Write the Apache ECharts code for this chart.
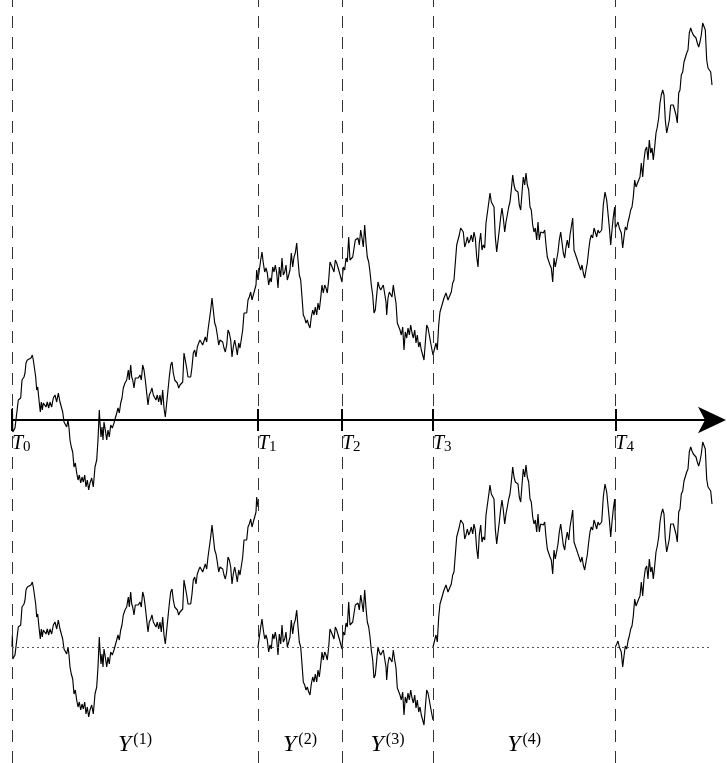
<!DOCTYPE html>
<html><head><meta charset="utf-8">
<script src="https://cdn.jsdelivr.net/npm/echarts@6/dist/echarts.min.js"></script>
<style>html,body{margin:0;padding:0;background:#fff}#c{width:727px;height:763px}</style>
</head><body><div id="c"></div>
<script>
// split times T_0..T_4
const splitTimes = [0, 2.46, 3.30, 4.21, 6.033];
const tickNames = ['0', '1', '2', '3', '4'];
const pieceNames = ['1', '2', '3', '4'];

// Brownian path B(t), one array per interval [T_k, T_k+1]
const path1 = [[0,0],[0.004,0.12],[0.008,-0.12],[0.03,-0.08],[0.047,-0.07],[0.063,0.20],[0.087,0.22],[0.10,0.40],[0.12,0.43],[0.13,0.47],[0.14,0.57],[0.153,0.60],[0.173,0.58],[0.19,0.62],[0.203,0.65],[0.213,0.60],[0.223,0.53],[0.237,0.43],[0.247,0.30],[0.257,0.33],[0.267,0.23],[0.273,0.17],[0.283,0.08],[0.293,0.18],[0.303,0.10],[0.313,0.17],[0.327,0.15],[0.34,0.13],[0.353,0.18],[0.367,0.12],[0.38,0.18],[0.397,0.13],[0.413,0.22],[0.43,0.25],[0.447,0.18],[0.463,0.27],[0.48,0.18],[0.497,0.17],[0.507,0.08],[0.52,-0.02],[0.533,-0.03],[0.547,-0.07],[0.56,0],[0.57,-0.08],[0.58,-0.20],[0.593,-0.27],[0.607,-0.32],[0.62,-0.47],[0.633,-0.43],[0.647,-0.53],[0.66,-0.60],[0.673,-0.55],[0.687,-0.63],[0.70,-0.57],[0.713,-0.62],[0.727,-0.55],[0.74,-0.67],[0.753,-0.60],[0.767,-0.70],[0.78,-0.63],[0.797,-0.58],[0.813,-0.67],[0.83,-0.47],[0.847,-0.40],[0.86,-0.20],[0.873,0.10],[0.88,-0.03],[0.89,-0.17],[0.90,-0.07],[0.91,-0.20],[0.92,-0.02],[0.933,-0.10],[0.947,-0.20],[0.96,-0.10],[0.973,-0.17],[0.987,-0.05],[1.003,-0.08],[1.02,-0.03],[1.033,-0.05],[1.047,0.07],[1.06,0.12],[1.073,0.07],[1.087,0.17],[1.10,0.22],[1.113,0.32],[1.13,0.37],[1.147,0.40],[1.163,0.50],[1.173,0.40],[1.187,0.55],[1.197,0.43],[1.207,0.40],[1.22,0.32],[1.233,0.42],[1.247,0.43],[1.263,0.42],[1.28,0.45],[1.293,0.40],[1.307,0.55],[1.32,0.50],[1.333,0.40],[1.347,0.27],[1.36,0.15],[1.373,0.25],[1.387,0.28],[1.40,0.32],[1.413,0.25],[1.427,0.23],[1.44,0.20],[1.453,0.25],[1.467,0.18],[1.48,0.25],[1.493,0.15],[1.507,0.30],[1.52,0.12],[1.533,0.03],[1.547,0.17],[1.56,0.30],[1.573,0.43],[1.587,0.55],[1.60,0.58],[1.613,0.47],[1.627,0.40],[1.64,0.42],[1.653,0.37],[1.667,0.32],[1.68,0.35],[1.693,0.37],[1.707,0.38],[1.72,0.67],[1.733,0.68],[1.747,0.52],[1.76,0.43],[1.773,0.42],[1.787,0.43],[1.80,0.53],[1.813,0.67],[1.827,0.70],[1.84,0.63],[1.853,0.73],[1.867,0.77],[1.88,0.80],[1.893,0.82],[1.907,0.75],[1.92,0.73],[1.933,0.83],[1.947,0.78],[1.96,0.90],[1.973,0.90],[1.987,1.10],[2.00,1.22],[2.013,1.10],[2.027,0.97],[2.04,0.93],[2.053,0.85],[2.067,0.75],[2.08,0.80],[2.093,0.82],[2.107,0.78],[2.12,0.72],[2.133,0.68],[2.147,0.75],[2.16,0.90],[2.173,0.87],[2.187,0.80],[2.20,0.63],[2.213,0.73],[2.227,0.80],[2.24,0.73],[2.253,0.65],[2.267,0.77],[2.28,0.72],[2.293,0.73],[2.307,0.90],[2.32,1.07],[2.333,1.08],[2.347,1.07],[2.36,1.20],[2.373,1.23],[2.387,1.28],[2.40,1.20],[2.413,1.25],[2.427,1.23],[2.44,1.35],[2.447,1.50],[2.46,1.40]];
const path2 = [[2.46,1.40],[2.473,1.42],[2.487,1.60],[2.50,1.68],[2.513,1.57],[2.527,1.48],[2.54,1.52],[2.553,1.47],[2.567,1.35],[2.58,1.42],[2.593,1.38],[2.607,1.53],[2.62,1.48],[2.633,1.55],[2.647,1.47],[2.66,1.32],[2.673,1.53],[2.687,1.43],[2.70,1.62],[2.713,1.45],[2.727,1.48],[2.74,1.55],[2.753,1.40],[2.767,1.45],[2.78,1.50],[2.793,1.67],[2.807,1.53],[2.82,1.63],[2.833,1.67],[2.847,1.77],[2.86,1.60],[2.873,1.45],[2.887,1.40],[2.90,1.23],[2.913,1.05],[2.927,1.02],[2.94,0.97],[2.953,1.00],[2.967,0.95],[2.98,0.92],[2.993,1.03],[3.007,1.10],[3.02,1.05],[3.033,1.13],[3.047,1.05],[3.06,1.17],[3.073,1.10],[3.087,1.22],[3.10,1.35],[3.113,1.27],[3.127,1.35],[3.14,1.32],[3.153,1.27],[3.167,1.40],[3.18,1.58],[3.193,1.55],[3.207,1.57],[3.22,1.48],[3.233,1.60],[3.247,1.57],[3.26,1.58],[3.273,1.48],[3.287,1.50],[3.30,1.38]];
const path3 = [[3.30,1.38],[3.313,1.53],[3.327,1.50],[3.34,1.62],[3.353,1.58],[3.367,1.83],[3.38,1.60],[3.393,1.62],[3.407,1.63],[3.42,1.62],[3.433,1.80],[3.447,1.78],[3.46,1.82],[3.473,1.75],[3.487,1.90],[3.50,1.82],[3.513,1.73],[3.527,1.95],[3.54,1.77],[3.553,1.63],[3.567,1.58],[3.58,1.48],[3.593,1.35],[3.607,1.25],[3.62,1.07],[3.633,1.10],[3.647,1.25],[3.66,1.38],[3.673,1.33],[3.687,1.30],[3.70,1.32],[3.713,1.35],[3.727,1.33],[3.74,1.18],[3.747,1.05],[3.76,1.22],[3.773,1.28],[3.787,1.27],[3.80,1.23],[3.813,1.35],[3.827,1.25],[3.84,1.17],[3.853,0.97],[3.867,0.95],[3.88,0.90],[3.893,0.85],[3.907,0.93],[3.92,0.70],[3.933,0.88],[3.947,0.82],[3.96,0.92],[3.973,0.85],[3.987,0.95],[4.00,0.87],[4.013,0.82],[4.027,0.90],[4.04,0.77],[4.053,0.85],[4.067,0.73],[4.08,0.78],[4.093,0.70],[4.107,0.65],[4.12,0.60],[4.133,0.77],[4.147,0.95],[4.16,0.92],[4.173,0.85],[4.187,0.77],[4.20,0.70],[4.21,0.65]];
const path4 = [[4.21,0.65],[4.227,0.72],[4.24,0.77],[4.253,0.70],[4.267,0.95],[4.28,1.08],[4.30,1.15],[4.32,1.22],[4.34,1.27],[4.36,1.20],[4.38,1.22],[4.393,1.28],[4.407,1.37],[4.42,1.40],[4.433,1.57],[4.447,1.75],[4.46,1.80],[4.473,1.85],[4.487,1.92],[4.50,1.93],[4.513,1.88],[4.527,1.73],[4.54,1.77],[4.553,1.83],[4.567,1.77],[4.58,1.80],[4.593,1.85],[4.607,1.78],[4.62,1.88],[4.633,1.82],[4.647,1.63],[4.66,1.53],[4.673,1.77],[4.687,1.87],[4.70,1.70],[4.713,1.75],[4.727,1.72],[4.74,1.97],[4.753,1.98],[4.767,2.17],[4.78,2.27],[4.793,2.18],[4.807,2.20],[4.82,2.13],[4.833,1.83],[4.847,1.68],[4.86,1.67],[4.873,1.90],[4.887,2.03],[4.90,2.12],[4.913,2.02],[4.927,1.88],[4.94,1.98],[4.953,2.05],[4.967,2.13],[4.98,2.18],[4.993,2.30],[5.007,2.45],[5.02,2.35],[5.033,2.30],[5.047,2.32],[5.06,2.28],[5.073,2.15],[5.087,2.10],[5.10,2.27],[5.113,2.43],[5.127,2.35],[5.14,2.47],[5.153,2.35],[5.167,2.30],[5.18,2.13],[5.193,2.10],[5.207,1.95],[5.22,1.88],[5.233,1.92],[5.247,1.80],[5.26,1.98],[5.273,1.80],[5.287,1.88],[5.30,1.90],[5.313,1.87],[5.327,1.90],[5.34,1.75],[5.353,1.63],[5.367,1.63],[5.38,1.55],[5.393,1.52],[5.407,1.38],[5.42,1.62],[5.433,1.53],[5.447,1.55],[5.46,1.68],[5.473,1.80],[5.487,1.88],[5.50,1.87],[5.513,1.67],[5.527,1.62],[5.54,1.73],[5.553,1.80],[5.567,1.72],[5.58,1.85],[5.593,1.93],[5.607,2.02],[5.62,1.70],[5.633,1.72],[5.647,1.62],[5.66,1.58],[5.673,1.57],[5.687,1.50],[5.70,1.55],[5.713,1.47],[5.727,1.42],[5.74,1.50],[5.753,1.57],[5.767,1.70],[5.78,1.80],[5.793,1.85],[5.807,1.82],[5.82,1.92],[5.833,1.88],[5.847,1.83],[5.86,1.90],[5.873,1.87],[5.887,1.87],[5.897,1.90],[5.913,2.15],[5.93,2.28],[5.947,2.20],[5.96,2.22],[5.973,1.93],[5.987,1.75],[6.00,1.90],[6.013,2.03],[6.027,2.13],[6.033,1.92]];
const path5 = [[6.033,1.92],[6.047,1.95],[6.06,1.98],[6.073,1.92],[6.08,1.90],[6.093,1.87],[6.107,1.72],[6.12,1.83],[6.133,1.93],[6.147,1.90],[6.16,1.98],[6.173,2.03],[6.187,2.10],[6.20,2.13],[6.213,2.23],[6.227,2.40],[6.24,2.33],[6.253,2.35],[6.267,2.40],[6.28,2.43],[6.293,2.57],[6.307,2.43],[6.32,2.60],[6.333,2.70],[6.347,2.73],[6.36,2.60],[6.373,2.80],[6.387,2.67],[6.40,2.72],[6.413,2.60],[6.427,2.73],[6.44,2.87],[6.453,2.93],[6.467,3.02],[6.48,3.17],[6.493,3.25],[6.507,3.30],[6.52,3.25],[6.533,3.00],[6.547,2.87],[6.56,2.85],[6.573,3.00],[6.587,3.15],[6.60,3.13],[6.613,3.15],[6.627,3.13],[6.64,3.05],[6.653,2.97],[6.667,3.27],[6.68,3.30],[6.693,3.45],[6.707,3.48],[6.72,3.58],[6.733,3.60],[6.747,3.67],[6.76,3.70],[6.773,3.87],[6.787,3.92],[6.80,3.88],[6.813,3.85],[6.827,3.87],[6.84,3.82],[6.853,3.77],[6.867,3.73],[6.88,3.78],[6.893,3.85],[6.907,3.97],[6.92,3.98],[6.933,3.90],[6.947,3.60],[6.96,3.52],[6.973,3.50],[6.987,3.48],[7.00,3.35]];

// ---- build ----
const pieces = [path1, path2, path3, path4, path5];
const fullPath = [];
pieces.forEach((p, k) => p.forEach((pt, j) => { if (k === 0 || j > 0) fullPath.push(pt); }));
const tEnd = fullPath[fullPath.length - 1][0];

const SERIF = "'Liberation Serif', 'DejaVu Serif', serif";
const tickHalf = 0.11;      // half length of the tick marks (value units)
const tLabelLevel = -0.24;  // where the T_k labels sit (top panel units)
const yLabelLevel = -0.98;  // where the Y^(k) labels sit (bottom panel units)

const chart = echarts.init(document.getElementById('c'), null, {renderer: 'canvas'});
const series = [];

series.push({
  type: 'line', xAxisIndex: 0, yAxisIndex: 0,
  data: fullPath, showSymbol: false, symbol: 'none', clip: false,
  lineStyle: {color: '#000', width: 1.15}, z: 3,
  markLine: {
    silent: true, symbol: ['none', 'none'], label: {show: false},
    data: [
      ...splitTimes.map(t => ({xAxis: t, lineStyle: {type: [12, 9], color: '#333', width: 1}})),
      ...splitTimes.map(t => [
        {coord: [t, tickHalf], lineStyle: {type: 'solid', color: '#000', width: 2}},
        {coord: [t, -tickHalf]}
      ])
    ]
  }
});

pieces.forEach((p, k) => {
  const b0 = p[0][1];
  const s = {
    type: 'line', xAxisIndex: 1, yAxisIndex: 1,
    data: p.map(([t, b]) => [t, +(b - b0).toFixed(4)]),
    showSymbol: false, symbol: 'none', clip: false,
    lineStyle: {color: '#000', width: 1.15}, z: 3
  };
  if (k === 0) {
    s.markLine = {
      silent: true, symbol: ['none', 'none'], label: {show: false},
      data: [[{coord: [splitTimes[0], 0], lineStyle: {type: [2, 3], color: '#555', width: 1}}, {coord: [tEnd, 0]}]]
    };
  }
  series.push(s);
});

// T_k labels under the time axis
series.push({
  type: 'scatter', xAxisIndex: 0, yAxisIndex: 0, symbolSize: 0, silent: true,
  itemStyle: {opacity: 1},
  data: splitTimes.map(t => [t, tLabelLevel]),
  label: {
    show: true, position: 'right', distance: 0, color: '#000',
    formatter: (p) => '{i|T}{s|' + tickNames[p.dataIndex] + '}',
    rich: {
      i: {fontFamily: SERIF, fontStyle: 'italic', fontSize: 20, color: '#000', lineHeight: 22},
      s: {fontFamily: SERIF, fontSize: 15, color: '#000', verticalAlign: 'bottom', lineHeight: 15, padding: [9, 0, 0, 0]}
    }
  }
});

// Y^(k) labels in the lower panel
series.push({
  type: 'scatter', xAxisIndex: 1, yAxisIndex: 1, symbolSize: 0, silent: true,
  itemStyle: {opacity: 1},
  data: pieceNames.map((n, i) => [(splitTimes[i] + splitTimes[i + 1]) / 2, yLabelLevel]),
  label: {
    show: true, position: 'inside', color: '#000',
    formatter: (p) => '{i|Y}{s|(' + pieceNames[p.dataIndex] + ')}',
    rich: {
      i: {fontFamily: SERIF, fontStyle: 'italic', fontSize: 24, color: '#000', lineHeight: 26},
      s: {fontFamily: SERIF, fontSize: 16, color: '#000', verticalAlign: 'top', lineHeight: 16, padding: [0, 0, 9, 2]}
    }
  }
});

chart.setOption({
  animation: false,
  backgroundColor: '#fff',
  grid: [
    {left: 12, right: 15, top: 0, bottom: 0, containLabel: false, outerBoundsMode: 'none'},
    {left: 12, right: 15, top: 0, bottom: 0, containLabel: false, outerBoundsMode: 'none'}
  ],
  xAxis: [
    {
      gridIndex: 0, type: 'value', min: 0, max: 7.0,
      axisLine: {show: true, onZero: true, symbol: ['none', 'arrow'], symbolSize: [20, 28], symbolOffset: [0, 14],
        lineStyle: {color: '#000', width: 2.2}},
      axisTick: {show: false}, splitLine: {show: false}, axisLabel: {show: false}
    },
    {gridIndex: 1, type: 'value', min: 0, max: 7.0, show: false}
  ],
  yAxis: [
    {gridIndex: 0, type: 'value', min: -3.43, max: 4.20, show: false, splitLine: {show: false}},
    {gridIndex: 1, type: 'value', min: -1.16, max: 6.47, show: false, splitLine: {show: false}}
  ],
  series: series
});
</script>
</body></html>
